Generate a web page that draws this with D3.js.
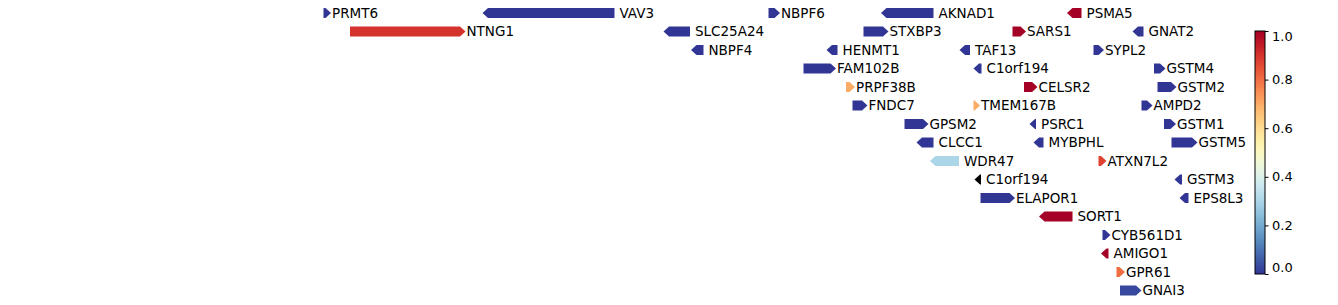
<!DOCTYPE html>
<html>
<head>
<meta charset="utf-8">
<script src="https://cdn.jsdelivr.net/npm/d3@7"></script>
<style>
  html, body { margin: 0; padding: 0; background: #fff; }
  svg { display: block; font-family: "DejaVu Sans", sans-serif; }
</style>
</head>
<body>
<div id="chart"></div>
<script>
// gene track data (positions, arbitrary track units)
const genes   = ["PRMT6","VAV3","NBPF6","AKNAD1","PSMA5",
                 "NTNG1","SLC25A24","STXBP3","SARS1","GNAT2",
                 "NBPF4","HENMT1","TAF13","SYPL2",
                 "FAM102B","C1orf194","GSTM4",
                 "PRPF38B","CELSR2","GSTM2",
                 "FNDC7","TMEM167B","AMPD2",
                 "GPSM2","PSRC1","GSTM1",
                 "CLCC1","MYBPHL","GSTM5",
                 "WDR47","ATXN7L2",
                 "C1orf194","GSTM3",
                 "ELAPOR1","EPS8L3",
                 "SORT1","CYB561D1","AMIGO1","GPR61","GNAI3"];
const starts  = [323.5,482.5,768.5,881,1067,
                 350,663.5,863.5,1012.5,1132.5,
                 691,826.5,959.5,1093.5,
                 803.5,973.5,1154,
                 846,1024,1157.5,
                 852.5,973.5,1141.5,
                 904.5,1029.5,1164,
                 916.5,1033.5,1171.5,
                 930,1098.5,
                 974.5,1174.5,
                 980.5,1179.5,
                 1039,1102.5,1101,1116.5,1120];
const ends    = [331,614.5,780,933.5,1081.5,
                 465.5,690,888.5,1026,1143.5,
                 703.5,837.5,970,1104,
                 836,981.5,1165.5,
                 855,1037.5,1176.5,
                 867.5,980,1152.5,
                 928.5,1036,1176,
                 933.5,1043.5,1197.5,
                 959,1106.5,
                 981,1182,
                 1015,1188.5,
                 1072.5,1110.5,1108.5,1125,1141.5];
const strands = [1,-1,1,-1,-1,
                 1,-1,1,1,-1,
                 -1,-1,-1,1,
                 1,-1,1,
                 1,1,1,
                 1,1,1,
                 1,-1,1,
                 -1,-1,1,
                 -1,1,
                 -1,-1,
                 1,-1,
                 -1,1,-1,1,1];
const rows    = [0,0,0,0,0,
                 1,1,1,1,1,
                 2,2,2,2,
                 3,3,3,
                 4,4,4,
                 5,5,5,
                 6,6,6,
                 7,7,7,
                 8,8,
                 9,9,
                 10,10,
                 11,12,13,14,15];
// colour value per gene (null = drawn black)
const values  = [0,0,0,0,1,
                 0.9,0,0,1,0,
                 0,0,0,0,
                 0,0,0,
                 0.7,1,0,
                 0,0.7,0,
                 0,0,0,
                 0,0,0,
                 0.3,0.87,
                 null,0,
                 0,0,
                 1,0,1,0.8,0.03];
const cbarTicks = [0.0, 0.2, 0.4, 0.6, 0.8, 1.0];

const W = 1338, H = 305;
const svg = d3.select("#chart").append("svg")
    .attr("width", W)
    .attr("height", H);

const x = d3.scaleLinear().domain([300, 1250]).range([300, 1250]);
const y = d3.scaleLinear().domain([0, 15]).range([13, 290.5]);
const color = v => v == null ? "#000" : d3.interpolateRdYlBu(1 - v);

const data = genes.map((g, i) => ({
    name: g, start: starts[i], end: ends[i], strand: strands[i],
    row: rows[i], value: values[i]
}));

const halfH = 5, tip = 5.5;
function arrow(d) {
    const s = x(d.start), e = x(d.end), cy = y(d.row);
    const h = Math.min(tip, e - s);
    const t = cy - halfH, b = cy + halfH;
    if (d.strand > 0) {
        return `M${s},${t}L${e - h},${t}L${e},${cy}L${e - h},${b}L${s},${b}Z`;
    }
    return `M${e},${t}L${s + h},${t}L${s},${cy}L${s + h},${b}L${e},${b}Z`;
}

const g = svg.append("g");
g.selectAll("path")
    .data(data)
    .join("path")
    .attr("d", arrow)
    .attr("fill", d => color(d.value));

g.selectAll("text")
    .data(data)
    .join("text")
    .attr("x", d => x(d.end) + (d.strand > 0 ? 1 : 5))
    .attr("y", d => y(d.row))
    .attr("dy", "0.35em")
    .attr("font-size", 13.5)
    .attr("fill", "#000")
    .text(d => d.name);

// colorbar
const cb = {x: 1255, w: 10, top: 31, bottom: 274};
const cy = d3.scaleLinear().domain([0, 1]).range([cb.bottom, cb.top]);

const defs = svg.append("defs");
const grad = defs.append("linearGradient")
    .attr("id", "cbar").attr("x1", 0).attr("y1", 1).attr("x2", 0).attr("y2", 0);
d3.range(0, 1.0001, 0.05).forEach(t => {
    grad.append("stop").attr("offset", t).attr("stop-color", color(t));
});

svg.append("rect")
    .attr("x", cb.x).attr("y", cb.top)
    .attr("width", cb.w).attr("height", cb.bottom - cb.top)
    .attr("fill", "url(#cbar)")
    .attr("stroke", "#000").attr("stroke-width", 1);

const axis = svg.append("g")
    .attr("transform", `translate(${cb.x + cb.w},0)`)
    .call(d3.axisRight(cy).tickValues(cbarTicks).tickFormat(d3.format(".1f"))
        .tickSize(3.5).tickPadding(3.5));
axis.select(".domain").remove();
axis.selectAll("text")
    .attr("font-size", 13)
    .attr("font-family", "DejaVu Sans, sans-serif")
    .attr("fill", "#000")
    .attr("dy", d => d === 0 ? "-0.2em" : d === 1 ? "0.7em" : "0.32em");
axis.selectAll("line").attr("stroke", "#000");
</script>
</body>
</html>
